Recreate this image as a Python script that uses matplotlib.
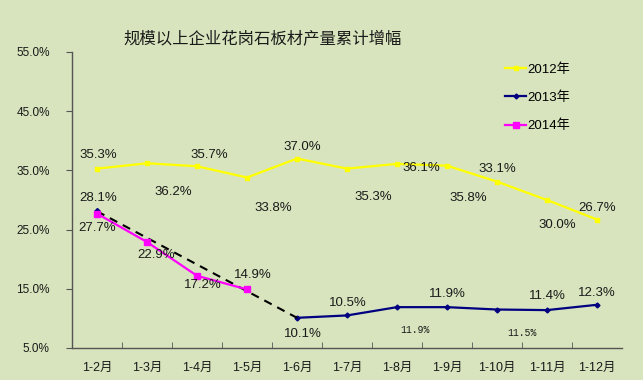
import matplotlib
matplotlib.use("Agg")
import matplotlib.pyplot as plt
from matplotlib.ticker import FixedLocator

# données
mois = ["1-2月", "1-3月", "1-4月", "1-5月", "1-6月", "1-7月",
        "1-8月", "1-9月", "1-10月", "1-11月", "1-12月"]
y2012 = [35.3, 36.2, 35.7, 33.8, 37.0, 35.3, 36.1, 35.8, 33.1, 30.0, 26.7]
y2013 = [28.1, None, None, None, 10.1, 10.5, 11.9, 11.9, 11.5, 11.4, 12.3]
y2014 = [27.7, 22.9, 17.2, 14.9]
yticks = [5, 15, 25, 35, 45, 55]

plt.rcParams['font.family'] = ['Liberation Sans', 'Noto Sans CJK SC', 'DejaVu Sans']

bg = '#d7e4bd'
fig = plt.figure(figsize=(6.43, 3.80), dpi=100, facecolor=bg)
ax = fig.add_axes([72/643, 32/380, 550/643, 296/380])
ax.set_facecolor(bg)

x = list(range(len(mois)))

ax.plot(x, y2012, color='#ffff00', lw=1.6, marker='s', ms=3.5, label='2012年')

# 2013 : trait plein à partir de 1-6, tirets entre 1-2 et 1-6
x13 = [i for i, v in enumerate(y2013) if v is not None]
v13 = [v for v in y2013 if v is not None]
ax.plot(x13[1:], v13[1:], color='#000080', lw=1.6, marker='D', ms=2.5, label='2013年')
ax.plot(x13[:2], v13[:2], color='black', lw=1.5, ls=(0, (4, 3)))
ax.plot(x13[:1], v13[:1], color='#000080', marker='D', ms=3, ls='none')

ax.plot(x[:len(y2014)], y2014, color='#ff00ff', lw=1.6, marker='s', ms=4, label='2014年')

# étiquettes
fs = 9.5
off12 = [(1, 14), (26, -29), (12, 11), (26, -30), (5, 12), (26, -28),
         (24, -4), (21, -32), (0, 13), (10, -25), (0, 12)]
for i, v in enumerate(y2012):
    ax.annotate(f"{v:.1f}%", (x[i], v), xytext=off12[i], textcoords='offset pixels',
                ha='center', va='center', fontsize=fs, color='#1a1a1a')

off13 = {0: (1, 13), 4: (6, -16), 5: (1, 12), 6: (18, -23), 7: (0, 13),
         8: (25, -23), 9: (0, 14), 10: (0, 12)}
for i, v in enumerate(y2013):
    if v is None:
        continue
    if i in (6, 8):
        ax.annotate(f"{v:.1f}%", (x[i], v), xytext=off13[i], textcoords='offset pixels',
                    ha='center', va='center', fontsize=7, color='#1a1a1a',
                    family=['Liberation Mono', 'DejaVu Sans Mono'])
    else:
        ax.annotate(f"{v:.1f}%", (x[i], v), xytext=off13[i], textcoords='offset pixels',
                    ha='center', va='center', fontsize=fs, color='#1a1a1a')

off14 = [(0, -14), (9, -13), (6, -9), (6, 14)]
for i, v in enumerate(y2014):
    ax.annotate(f"{v:.1f}%", (x[i], v), xytext=off14[i], textcoords='offset pixels',
                ha='center', va='center', fontsize=fs, color='#1a1a1a')

# axes
ax.set_xlim(-0.5, len(mois) - 0.5)
ax.set_ylim(5, 55)
ax.set_yticks(yticks)
ax.set_yticklabels([f"{t:.1f}%" for t in yticks], fontsize=8.5, color='#1a1a1a')
ax.set_xticks(x)
ax.set_xticklabels(mois, fontsize=9, color='#1a1a1a')
ax.xaxis.set_minor_locator(FixedLocator([i + 0.5 for i in range(len(mois) - 1)]))
ax.tick_params(axis='x', which='major', length=0, pad=10)
ax.tick_params(axis='x', which='minor', length=4, direction='in', color='#555555')
ax.tick_params(axis='y', length=4, direction='out', color='#555555', pad=12)
for s in ['top', 'right']:
    ax.spines[s].set_visible(False)
for s in ['left', 'bottom']:
    ax.spines[s].set_color('#555555')
    ax.spines[s].set_linewidth(1.0)

fig.text(263/643, 1 - 40/380, "规模以上企业花岗石板材产量累计增幅", ha='center', va='center',
         fontsize=11.8, color='#1a1a1a', family=['Noto Sans CJK SC'])

fig.legend(loc='upper left', bbox_to_anchor=(505/643, 1 - 63/380), frameon=False,
           fontsize=9.5, handlelength=1.6, handletextpad=0.1, labelspacing=1.2,
           borderpad=0, borderaxespad=0)

fig.savefig("out.png", dpi=100, facecolor=bg)
